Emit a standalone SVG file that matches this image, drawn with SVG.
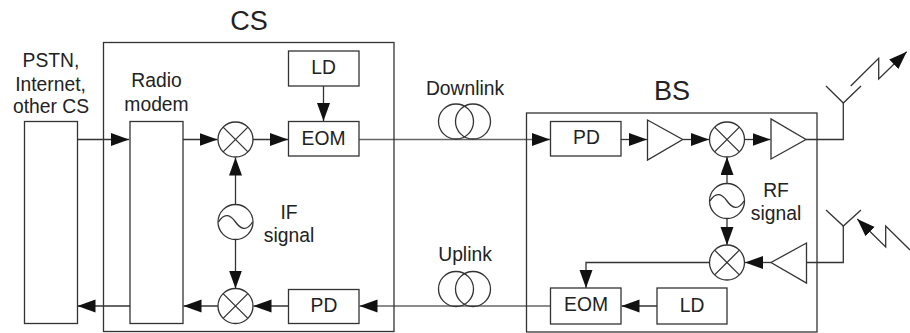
<svg xmlns="http://www.w3.org/2000/svg" width="910" height="333" viewBox="0 0 910 333">
<style>
text{font-family:"Liberation Sans",Arial,sans-serif;font-size:19.300px;fill:#222;text-anchor:middle}
.t{font-size:27px}
rect,circle,.s{fill:none;stroke:#333;stroke-width:1.3}
.c{fill:none;stroke:#333;stroke-width:1.3}
.g{stroke:#666}
</style>
<defs>
<marker id="a" markerUnits="userSpaceOnUse" markerWidth="19" markerHeight="14" refX="18" refY="6.500" orient="auto"><path d="M0 0L18 6.500L0 13Z" fill="#111"/></marker>
<g id="mix"><circle r="17.500"/><path class="s" d="M-12.400-12.400L12.400 12.400M-12.400 12.400L12.400-12.400"/></g>
<g id="osc"><circle r="17.500"/><path class="s" d="M-17 0C-11-10-5-7 0 0S11 10 17 0"/></g>
</defs>
<g id="connectors">
<path class="c" marker-end="url(#a)" d="M77 139.500H129"/>
<path class="c" marker-end="url(#a)" d="M183 139.500H217.500"/>
<path class="c" marker-end="url(#a)" d="M253 139.500H288"/>
<path class="c" marker-end="url(#a)" d="M323.500 86V121"/>
<path class="c" marker-end="url(#a)" d="M235.500 204.500V157.500"/>
<path class="c" marker-end="url(#a)" d="M235.500 239.500V288.500"/>
<path class="c" marker-end="url(#a)" d="M288.500 306H253.500"/>
<path class="c" marker-end="url(#a)" d="M218 306H183.500"/>
<path class="c" marker-end="url(#a)" d="M130 306H77.500"/>
<path class="c g" marker-end="url(#a)" d="M359 139.500H550"/>
<path class="c g" marker-end="url(#a)" d="M550.500 306H359.500"/>
<path class="c" marker-end="url(#a)" d="M621 139.500H647"/>
<path class="c" marker-end="url(#a)" d="M683 139.500H709"/>
<path class="c" marker-end="url(#a)" d="M744.500 139.500H770.500"/>
<path class="c" marker-end="url(#a)" d="M727 183.500V157"/>
<path class="c" marker-end="url(#a)" d="M727 218.500V245"/>
<path class="c" marker-end="url(#a)" d="M771 262.500H745"/>
<path class="c" marker-end="url(#a)" d="M709.500 262.500H586V288"/>
<path class="c" marker-end="url(#a)" d="M657 306H621.500"/>
<path class="c" d="M806 139.500H843.300V103"/>
<path class="c" d="M806.500 262.500H843.300V226"/>
<path class="c" marker-end="url(#a)" d="M850.700 86L878.700 58.300V79L906.700 51.700"/>
<path class="c" marker-end="url(#a)" d="M910 250L885.700 226V247L857.300 219"/>
</g>
<g id="cs"><rect x="103.500" y="42.500" width="290.500" height="289"/><text class="t" x="249" y="30">CS</text></g>
<g id="external"><rect x="24.500" y="121.500" width="53" height="202"/><text x="51" y="67">PSTN,</text><text x="50.500" y="91">Internet,</text><text x="51" y="113">other CS</text></g>
<g id="modem"><rect x="130" y="121.500" width="53" height="202"/><text x="156.500" y="87">Radio</text><text x="156.500" y="111">modem</text></g>
<g id="cs-mixer-top"><use href="#mix" x="235.500" y="139.500"/></g>
<g id="cs-osc"><use href="#osc" x="235.500" y="222"/><text x="289" y="219">IF</text><text x="289" y="242">signal</text></g>
<g id="cs-mixer-bottom"><use href="#mix" x="235.500" y="306"/></g>
<g id="cs-ld"><rect x="288.500" y="51" width="70.500" height="35"/><text x="323.500" y="74">LD</text></g>
<g id="cs-eom"><rect x="288.500" y="121.500" width="70.500" height="34.500"/><text x="323.500" y="145">EOM</text></g>
<g id="cs-pd"><rect x="288.500" y="289.500" width="70.500" height="34"/><text x="324" y="312">PD</text></g>
<g id="downlink"><circle cx="456" cy="121.500" r="17.500"/><circle cx="473" cy="121.500" r="17.500"/><text x="465" y="95">Downlink</text></g>
<g id="uplink"><circle cx="456" cy="289" r="17.500"/><circle cx="473" cy="289" r="17.500"/><text x="465" y="261">Uplink</text></g>
<g id="bs"><rect x="526.500" y="113" width="290.500" height="219"/><text class="t" x="672" y="100">BS</text></g>
<g id="bs-pd"><rect x="550.500" y="121.500" width="70.500" height="34.500"/><text x="586.500" y="144">PD</text></g>
<g id="bs-amp1"><path class="s" d="M647.500 120V160L682.700 139.500Z"/></g>
<g id="bs-mixer-top"><use href="#mix" x="727" y="139.500"/></g>
<g id="bs-amp2"><path class="s" d="M771 119V159L806 139.500Z"/></g>
<g id="bs-osc"><use href="#osc" x="727" y="201"/><text x="776" y="197">RF</text><text x="776" y="220">signal</text></g>
<g id="bs-mixer-bottom"><use href="#mix" x="727" y="262.500"/></g>
<g id="bs-amp3"><path class="s" d="M806.500 243V283L771 262.500Z"/></g>
<g id="bs-eom"><rect x="550.500" y="288" width="70.500" height="36"/><text x="586" y="311">EOM</text></g>
<g id="bs-ld"><rect x="657" y="288" width="70" height="36"/><text x="692" y="312">LD</text></g>
<g id="antenna-tx"><path class="s" d="M826 86L843.300 103L861 86"/></g>
<g id="antenna-rx"><path class="s" d="M826 210L843.300 226L861 210"/></g>
</svg>
